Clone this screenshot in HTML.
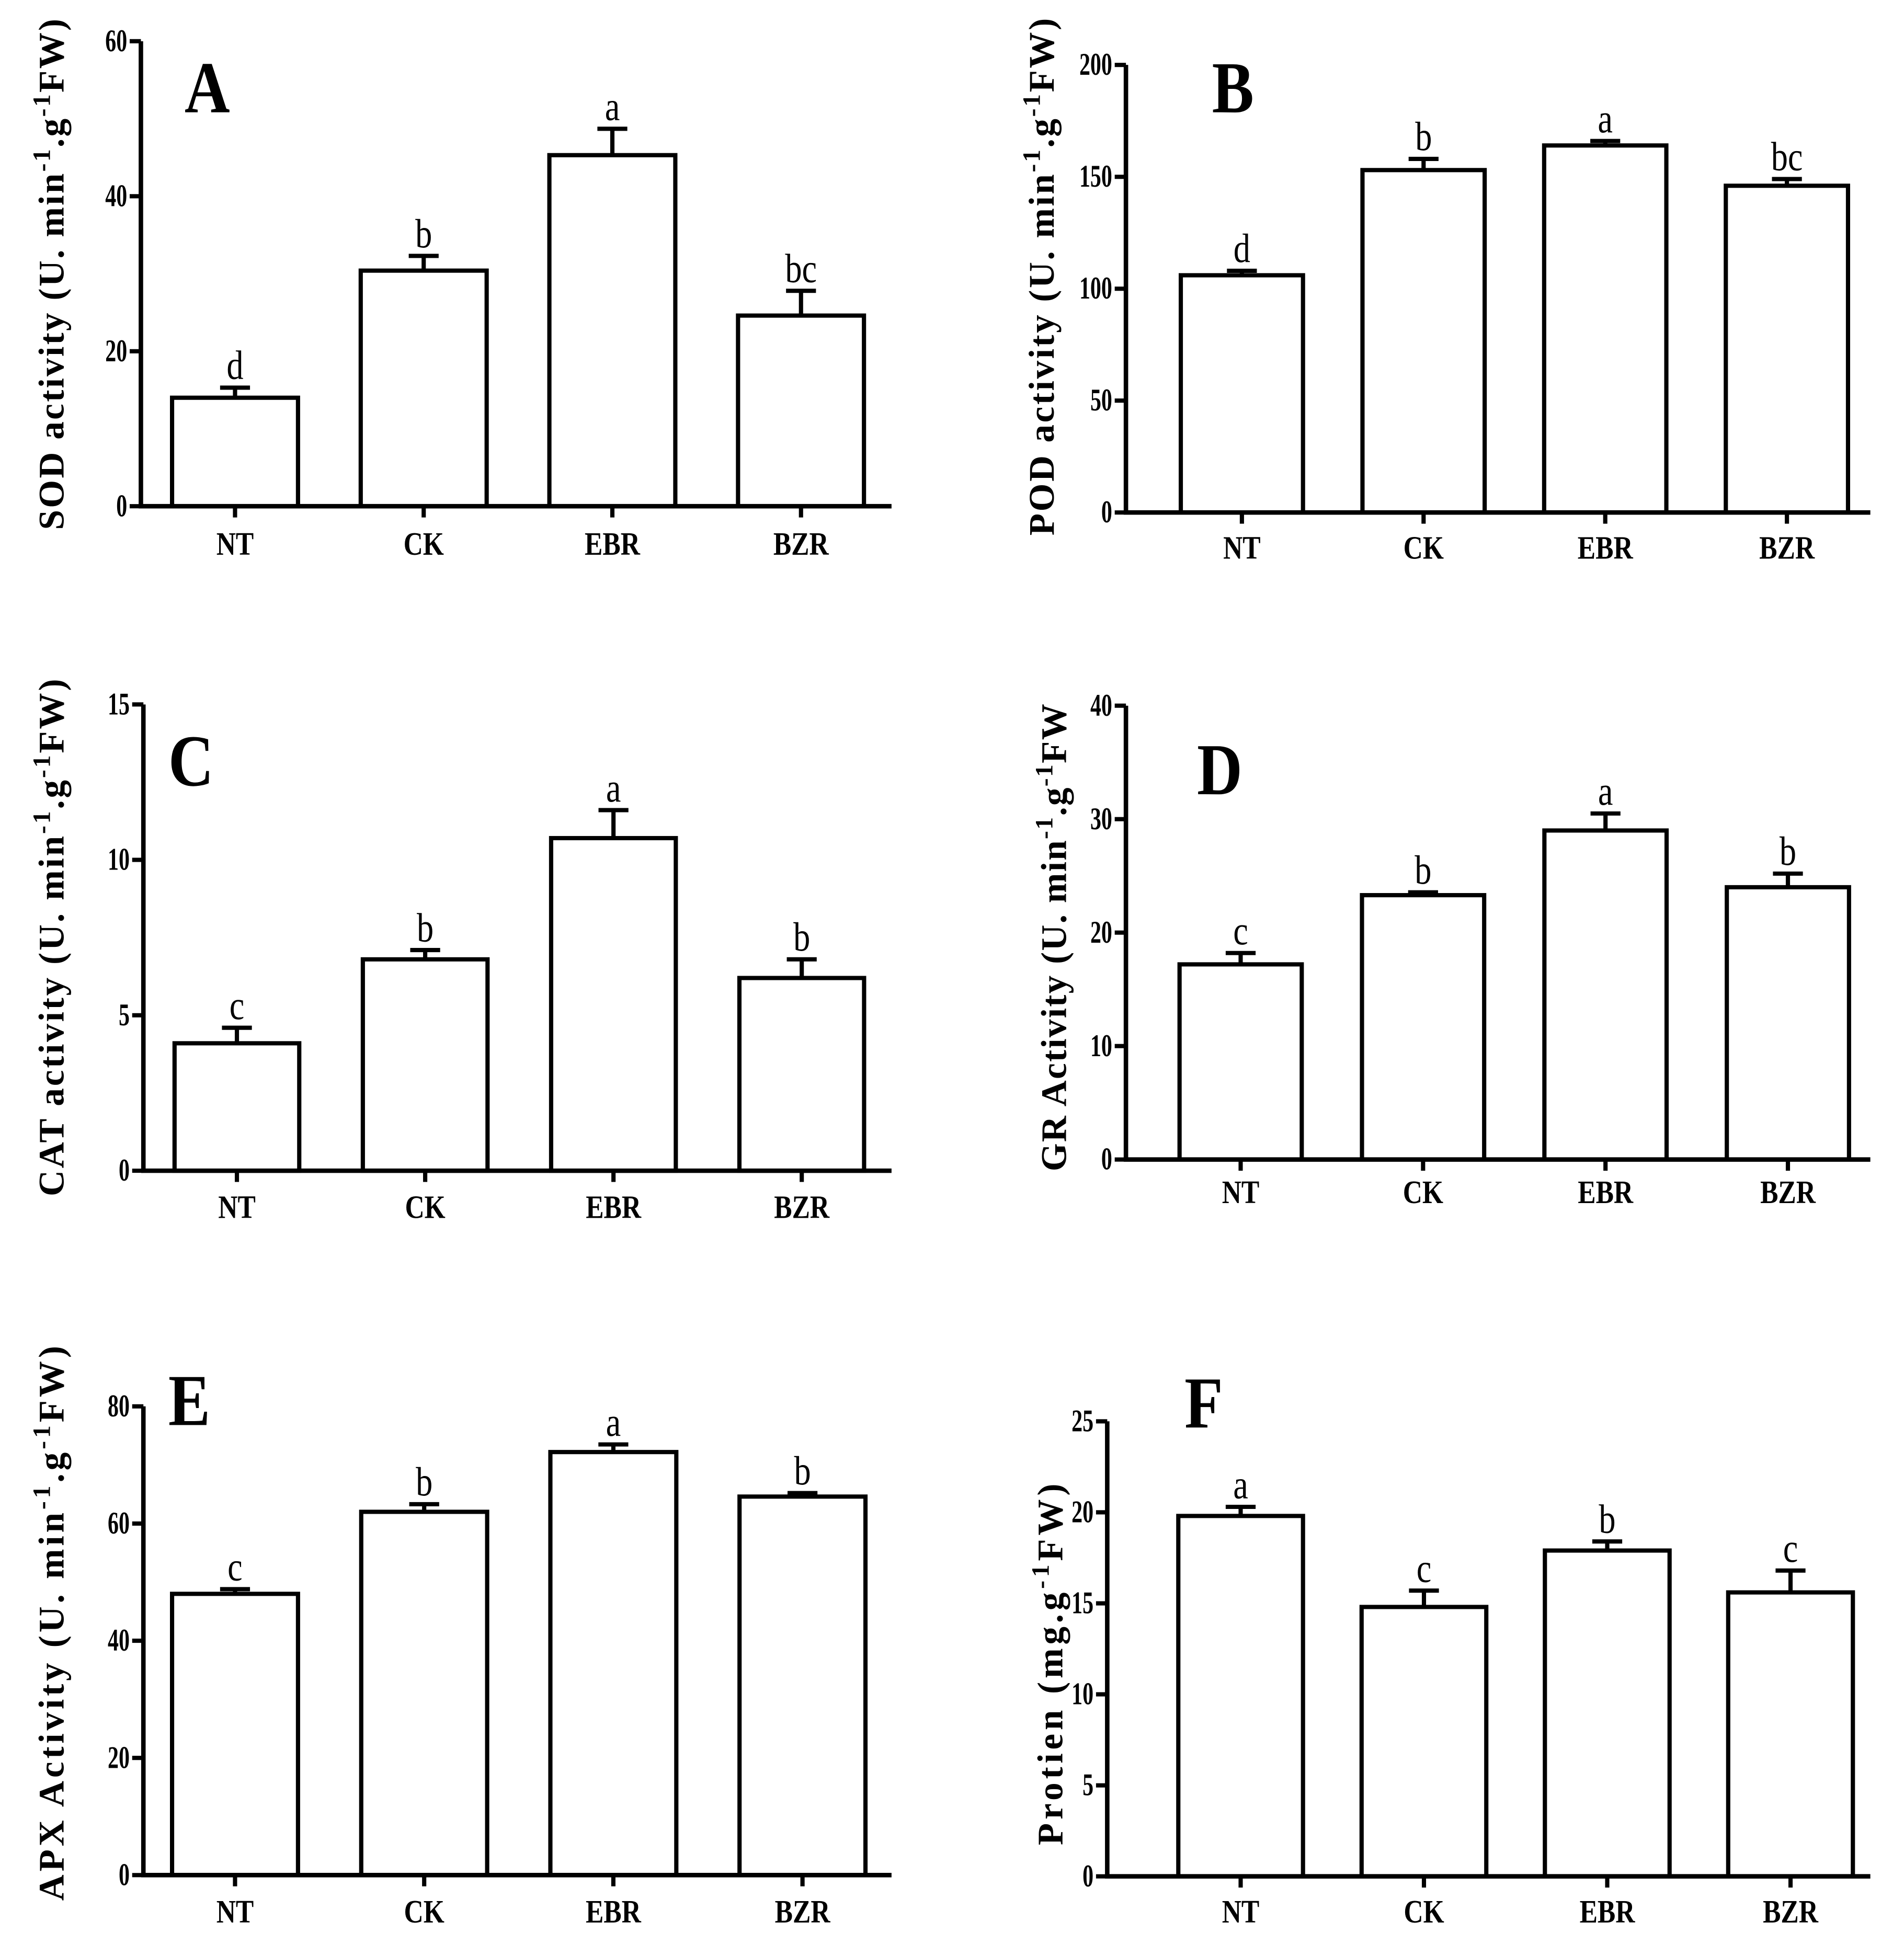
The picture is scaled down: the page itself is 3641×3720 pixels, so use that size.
<!DOCTYPE html>
<html><head><meta charset="utf-8"><style>
html,body{margin:0;padding:0;background:#fff;}
svg{display:block;}
text{font-family:"Liberation Serif",serif;fill:#000;}
</style></head><body>
<svg id="fig" width="3641" height="3720" viewBox="0 0 1527 1560" xmlns="http://www.w3.org/2000/svg"></svg>
<script>
const categories = ["NT","CK","EBR","BZR"];
const sodValues = [14, 30.4, 45.3, 24.6];
const sodErrors = [1.3, 1.9, 3.4, 3.2];
const sodLetters = ["d","b","a","bc"];
const podValues = [106, 153, 164, 146];
const podErrors = [2, 5, 2, 3];
const podLetters = ["d","b","a","bc"];
const catValues = [4.1, 6.8, 10.7, 6.2];
const catErrors = [0.5, 0.3, 0.9, 0.6];
const catLetters = ["c","b","a","b"];
const grValues = [17.2, 23.3, 29, 24];
const grErrors = [1.0, 0.25, 1.5, 1.2];
const grLetters = ["c","b","a","b"];
const apxValues = [48, 62, 72.2, 64.6];
const apxErrors = [0.8, 1.3, 1.3, 0.6];
const apxLetters = ["c","b","a","b"];
const protValues = [19.8, 14.8, 17.9, 15.6];
const protErrors = [0.5, 0.9, 0.5, 1.2];
const protLetters = ["a","c","b","c"];
const sodTicks = [0,20,40,60];
const podTicks = [0,50,100,150,200];
const catTicks = [0,5,10,15];
const grTicks = [0,10,20,30,40];
const apxTicks = [0,20,40,60,80];
const protTicks = [0,5,10,15,20,25];

const NS="http://www.w3.org/2000/svg";
const svg=document.getElementById('fig');
function mk(tag,attrs,parent){const e=document.createElementNS(NS,tag);for(const k in attrs)e.setAttribute(k,attrs[k]);(parent||svg).appendChild(e);return e;}

const panels=[
 {id:'a',L:'A',vals:sodValues,errs:sodErrors,lets:sodLetters,ticks:sodTicks,x0:113,x1:715,yT:33,yB:406,bar0:138,step:151.3,bw:101,lx:148,ly:90,ylx:51,yly:220,ylen:410,xlY:445,
  yl:[["SOD activity (U. min",0],["-1",1],[".g",0],["-1",1],["FW)",0]]},
 {id:'b',L:'B',vals:podValues,errs:podErrors,lets:podLetters,ticks:podTicks,x0:903,x1:1500,yT:52,yB:411,bar0:947,step:145.7,bw:98,lx:972,ly:90,ylx:845,yly:222,ylen:415,xlY:448,
  yl:[["POD activity (U. min",0],["-1",1],[".g",0],["-1",1],["FW)",0]]},
 {id:'c',L:'C',vals:catValues,errs:catErrors,lets:catLetters,ticks:catTicks,x0:115,x1:715,yT:565,yB:939,bar0:140,step:151,bw:100,lx:135,ly:630,ylx:51,yly:752,ylen:415,xlY:977,
  yl:[["CAT activity (U. min",0],["-1",1],[".g",0],["-1",1],["FW)",0]]},
 {id:'d',L:'D',vals:grValues,errs:grErrors,lets:grLetters,ticks:grTicks,x0:903,x1:1500,yT:566,yB:930,bar0:946,step:146.3,bw:98,lx:960,ly:637,ylx:855,yly:752,ylen:375,xlY:965,
  yl:[["GR Activity (U. min",0],["-1",1],[".g",0],["-1",1],["FW",0]]},
 {id:'e',L:'E',vals:apxValues,errs:apxErrors,lets:apxLetters,ticks:apxTicks,x0:115,x1:715,yT:1128,yB:1504,bar0:138,step:151.7,bw:101,lx:135,ly:1143,ylx:51,yly:1302,ylen:445,xlY:1542,
  yl:[["APX Activity (U. min",0],["-1",1],[".g",0],["-1",1],["FW)",0]]},
 {id:'f',L:'F',vals:protValues,errs:protErrors,lets:protLetters,ticks:protTicks,x0:888,x1:1500,yT:1140,yB:1505,bar0:945,step:147,bw:100,lx:950,ly:1145,ylx:852,yly:1335,ylen:290,xlY:1542,
  yl:[["Protien (mg.g",0],["-1",1],["FW)",0]]}
];

panels.forEach(p=>{
  const g=mk('g',{});
  
  
  const tmax=p.ticks[p.ticks.length-1];
  const y=v=>p.yB-(v/tmax)*(p.yB-p.yT);
  p.vals.forEach((v,i)=>{
    const bx=p.bar0+i*p.step, cx=bx+p.bw/2;
    const r=mk('rect',{x:bx,y:y(v),width:p.bw,height:p.yB-y(v),fill:'#fff',stroke:'#000','stroke-width':3.4},g);
    
    
    const eb=mk('path',{d:`M${cx},${y(v)}V${y(v+p.errs[i])}M${cx-12},${y(v+p.errs[i])}H${cx+12}`,stroke:'#000','stroke-width':3.4,fill:'none'},g);
    
    
    const t=mk('text',{transform:`translate(${cx},${y(v+p.errs[i])-7}) scale(0.9,1.1)`,'text-anchor':'middle','font-size':30},g);
    t.textContent=p.lets[i];
    
    
    const tk=mk('line',{x1:cx,x2:cx,y1:p.yB,y2:p.yB+9,stroke:'#000','stroke-width':3.4},g);
    
    
    const xl=mk('text',{transform:`translate(${cx},${p.xlY}) scale(0.9,1.1)`,'text-anchor':'middle','font-size':24,'font-weight':'bold'},g);
    xl.textContent=categories[i];
    
    
  });
  const ax=mk('path',{d:`M${p.x0},${p.yT}V${p.yB}H${p.x1}`,stroke:'#000','stroke-width':3.6,fill:'none'},g);
  
  
  p.ticks.forEach(tv=>{
    const ty=y(tv);
    const tl=mk('line',{x1:p.x0-9,x2:p.x0,y1:ty,y2:ty,stroke:'#000','stroke-width':3.4},g);
    
    
    const tt=mk('text',{transform:`translate(${p.x0-11},${ty+8}) scale(0.8,1.15)`,'text-anchor':'end','font-size':22,'font-weight':'bold'},g);
    tt.textContent=tv;
    
    
  });
  const pl=mk('text',{transform:`translate(${p.lx},${p.ly}) scale(0.9,1.05)`,'font-size':56,'font-weight':'bold'},g);
  pl.textContent=p.L;
  
  
  const yt=mk('text',{transform:`translate(${p.ylx},${p.yly}) rotate(-90)`,x:-p.ylen/2,y:0,'font-size':29,'font-weight':'bold',textLength:p.ylen,lengthAdjust:'spacing'},g);
  
  
  let prevSup=false;
  p.yl.forEach(([s,sup])=>{
    let dy=0;
    if(sup&&!prevSup)dy=-11;
    if(!sup&&prevSup)dy=11;
    const ts=mk('tspan',sup?{dy:dy,'font-size':20}:{dy:dy},yt);
    ts.textContent=s;
    prevSup=!!sup;
  });
});
</script>
</body></html>
